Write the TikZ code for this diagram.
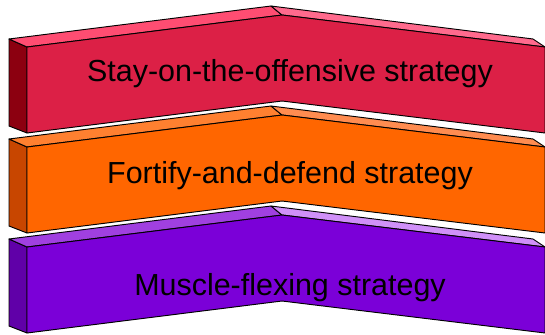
\documentclass[tikz,border=0pt]{standalone}
\usepackage{fontspec}
\setmainfont{Liberation Sans}
\definecolor{redfront}{RGB}{220,32,70}
\definecolor{redtop}{RGB}{255,77,114}
\definecolor{redtopr}{RGB}{255,106,141}
\definecolor{redside}{RGB}{140,0,16}
\definecolor{orangefront}{RGB}{255,102,0}
\definecolor{orangetop}{RGB}{255,128,48}
\definecolor{orangetopr}{RGB}{255,140,80}
\definecolor{orangeside}{RGB}{200,70,0}
\definecolor{purplefront}{RGB}{123,0,216}
\definecolor{purpletop}{RGB}{160,64,224}
\definecolor{purpletopr}{RGB}{208,144,248}
\definecolor{purpleside}{RGB}{96,0,168}

\begin{document}
\begin{tikzpicture}[x=0.03cm, y=-0.03cm, line join=round,
    face/.style={draw=black, line width=0.8pt},
    bandtext/.style={font=\fontsize{26}{30}\selectfont, anchor=base}]
    \useasboundingbox (0,0) rectangle (545,334);
    \clip (0,0) rectangle (545,334);

    % Bands (top to bottom)
    \foreach \d/\fr/\tl/\tr/\sd in {0/redfront/redtop/redtopr/redside,
        100/orangefront/orangetop/orangetopr/orangeside,
        200/purplefront/purpletop/purpletopr/purpleside} {
        % left side
        \filldraw[face, fill=\sd] (9,39+\d) -- (27,47+\d) -- (27,133+\d) -- (9,126+\d) -- cycle;
        % top faces
        \filldraw[face, fill=\tl] (9,39+\d) -- (271,6+\d) -- (282,15+\d) -- (27,47+\d) -- cycle;
        \filldraw[face, fill=\tr] (271,6+\d) -- (533,39+\d) -- (545,47+\d) -- (282,15+\d) -- cycle;
        % front face
        \filldraw[face, fill=\fr] (27,47+\d) -- (282,15+\d) -- (545,47+\d) -- (545,133+\d)
            -- (282,101+\d) -- (27,133+\d) -- cycle;
    }

    % Labels
    \node[bandtext] (offensive) at (290,81) {Stay-on-the-offensive strategy};
    \node[bandtext] (fortify) at (290,183) {Fortify-and-defend strategy};
    \node[bandtext] (muscle) at (290,295) {Muscle-flexing strategy};
\end{tikzpicture}
\end{document}
